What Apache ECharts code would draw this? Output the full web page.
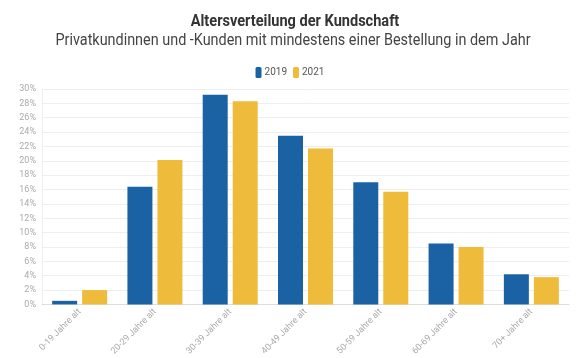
<!DOCTYPE html>
<html><head><meta charset="utf-8">
<script src="https://cdn.jsdelivr.net/npm/echarts@6/dist/echarts.min.js"></script>
<style>html,body{margin:0;padding:0;background:#fff}#c{width:580px;height:358px}</style>
</head><body><div id="c"></div>
<script>
var categories = ['0-19 Jahre alt','20-29 Jahre alt','30-39 Jahre alt','40-49 Jahre alt','50-59 Jahre alt','60-69 Jahre alt','70+ Jahre alt'];
var seriesNames = ['2019','2021'];
var values2019 = [0.5, 16.4, 29.2, 23.5, 17.0, 8.5, 4.2];
var values2021 = [2.0, 20.1, 28.3, 21.7, 15.7, 8.0, 3.8];
var yTicks = [0,2,4,6,8,10,12,14,16,18,20,22,24,26,28,30];
var titleText = 'Altersverteilung der Kundschaft';
var subtitleText = 'Privatkundinnen und -Kunden mit mindestens einer Bestellung in dem Jahr';

var font = "Roboto,sans-serif";
var chart = echarts.init(document.getElementById('c'));
chart.setOption({
  animation:false,
  graphic:[
    {type:'text',x:295,y:22,scaleX:0.91,
      style:{text:titleText,font:"bold 16px Roboto",fill:'#333',align:'center',verticalAlign:'middle'}},
    {type:'text',x:293,y:41,scaleX:0.9,
      style:{text:subtitleText,font:"16px Roboto",fill:'#444',align:'center',verticalAlign:'middle'}}
  ],
  legend:{top:62,left:'center',itemWidth:6,itemHeight:11,itemGap:6,
    icon:'roundRect',
    textStyle:{fontFamily:font,fontSize:10,color:'#555',padding:[0,0,0,-2]},
    data:seriesNames},
  grid:{left:42,right:11,top:89,bottom:53,containLabel:false},
  xAxis:{type:'category',data:categories,
    axisLine:{lineStyle:{color:'#ddd'}},axisTick:{show:false},
    axisLabel:{rotate:45,fontFamily:font,fontSize:9,color:'#aaa',margin:6}},
  yAxis:{type:'value',min:yTicks[0],max:yTicks[yTicks.length-1],interval:2,
    axisLine:{show:true,lineStyle:{color:'#eee'}},
    splitLine:{lineStyle:{color:'#eee'}},
    axisLabel:{formatter:'{value}%',fontFamily:font,fontSize:9,color:'#aaa',margin:6}},
  series:[
    {name:seriesNames[0],type:'bar',data:values2019,itemStyle:{color:'#1b62a5'},barWidth:25,barGap:'20%'},
    {name:seriesNames[1],type:'bar',data:values2021,itemStyle:{color:'#efbb3b'},barWidth:25,barGap:'20%'}
  ]
});
</script></body></html>
